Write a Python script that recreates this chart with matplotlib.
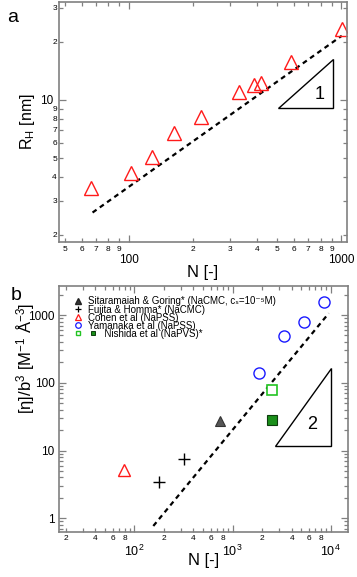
import numpy as np
import matplotlib
matplotlib.use("Agg")
import matplotlib.pyplot as plt
from matplotlib.ticker import LogLocator, FuncFormatter, NullFormatter
from matplotlib.lines import Line2D
from matplotlib.patches import Polygon
from matplotlib.legend_handler import HandlerBase

plt.rcParams['font.family'] = ['Liberation Sans', 'DejaVu Sans']
plt.rcParams['mathtext.fontset'] = 'custom'
plt.rcParams['mathtext.rm'] = 'Liberation Sans'
plt.rcParams['mathtext.it'] = 'Liberation Sans:italic'
plt.rcParams['mathtext.default'] = 'regular'

# ---------------- Panel a data ----------------
a_N = [66.8, 102, 128.4, 163.7, 219.7, 329.6, 388, 417.6, 583, 1005]
a_RH = [3.49, 4.20, 5.08, 6.72, 8.13, 10.96, 11.9, 12.3, 15.7, 23.4]
a_fit_N = [67.6, 1005]
a_fit_RH = [2.61, 21.5]
a_tri_N = [506, 918, 918]
a_tri_RH = [9.06, 9.06, 16.3]
a_slope_label = "1"
a_slope_pos = (787, 10.7)

# ---------------- Panel b data ----------------
b_sit_N = [749]
b_sit_eta = [27.3]
b_fuj_N = [180, 324]
b_fuj_eta = [3.48, 7.44]
b_coh_N = [78.5]
b_coh_eta = [5.18]
b_yam_N = [1842, 3311, 5395, 8490]
b_yam_eta = [138, 490, 788, 1556]
b_nis_open_N = [2522]
b_nis_open_eta = [78.3]
b_nis_fill_N = [2522]
b_nis_fill_eta = [28.3]
b_fit_N = [156, 9550]
b_fit_eta = [0.77, 1060]
b_tri_N = [2683, 10160, 10160]
b_tri_eta = [11.8, 11.8, 164]
b_slope_label = "2"
b_slope_pos = (6460, 23.9)

labels_b = ["Sitaramaiah & Goring* (NaCMC, c\u209b=10\u207b\u2075M)",
            "Fujita & Homma* (NaCMC)",
            "Cohen et al (NaPSS)",
            "Yamanaka et al (NaPSS)",
            "      Nishida et al (NaPVS)*"]

FRAME = '#808080'
RED = '#ff1a1a'
BLUE = '#1a1aff'
GREEN = '#22c322'
DKGREEN = '#1a8f1a'

W, H = 357, 577
fig = plt.figure(figsize=(W / 100, H / 100), dpi=100)

def fx(px):
    return px / W

def fy(py):
    return 1 - py / H

axa = fig.add_axes([fx(59), fy(242.3), fx(347 - 59), (242.3 - 1.7) / H])
axb = fig.add_axes([fx(59.3), fy(531.7), fx(347.7 - 59.3), (531.7 - 286) / H])


def digit_formatter(allowed):
    def f(v, pos):
        if v <= 0:
            return ''
        d = int(round(v / 10 ** np.floor(np.log10(v) + 1e-9)))
        return str(d) if d in allowed else ''
    return FuncFormatter(f)


def style_axes(ax):
    for s in ax.spines.values():
        s.set_color(FRAME)
        s.set_linewidth(1.2)
    ax.tick_params(which='both', direction='in', top=True, right=True,
                   color=FRAME, width=0.9)
    ax.tick_params(which='major', length=5)
    ax.tick_params(which='minor', length=3)


# ---------------- Panel a ----------------
axa.set_xscale('log')
axa.set_yscale('log')
axa.set_xlim(47, 1064)
axa.set_ylim(1.83, 32.3)
axa.plot(a_fit_N, a_fit_RH, color='black', lw=1.6, ls=(0, (2.2, 1.8)))
axa.plot(a_N, a_RH, ls='none', marker='^', ms=9.5, mfc='none', mec=RED, mew=1.0)
axa.add_patch(Polygon(np.column_stack([a_tri_N, a_tri_RH]), closed=True,
                      facecolor='white', edgecolor='black', lw=1.0))
axa.text(a_slope_pos[0], a_slope_pos[1], a_slope_label, fontsize=13,
         ha='center', va='center')
style_axes(axa)
axa.xaxis.set_major_locator(LogLocator(base=10))
axa.xaxis.set_minor_locator(LogLocator(base=10, subs=np.arange(2, 10)))
axa.yaxis.set_major_locator(LogLocator(base=10))
axa.yaxis.set_minor_locator(LogLocator(base=10, subs=np.arange(2, 10)))
axa.xaxis.set_major_formatter(FuncFormatter(lambda v, p: '%g' % v))
axa.yaxis.set_major_formatter(FuncFormatter(lambda v, p: '%g' % v))
axa.xaxis.set_minor_formatter(digit_formatter(set(range(2, 10))))
axa.yaxis.set_minor_formatter(digit_formatter(set(range(2, 10))))
axa.tick_params(axis='x', which='major', pad=8.5, labelsize=8.5)
axa.tick_params(axis='x', which='minor', pad=2.5, labelsize=6)
axa.tick_params(axis='y', which='major', pad=4.0, labelsize=8.5)
axa.tick_params(axis='y', which='minor', pad=1.5, labelsize=6)
axa.set_xlabel('N [-]', fontsize=12, labelpad=-1)
axa.set_ylabel('R$_H$ [nm]', fontsize=11.5)
axa.yaxis.set_label_coords(-0.078, 0.5)

# ---------------- Panel b ----------------
axb.set_xscale('log')
axb.set_yscale('log')
axb.set_xlim(17.2, 14900)
axb.set_ylim(0.634, 2680)
axb.plot(b_fit_N, b_fit_eta, color='black', lw=1.6, ls=(0, (2.2, 1.8)))
axb.add_patch(Polygon(np.column_stack([b_tri_N, b_tri_eta]), closed=True,
                      facecolor='white', edgecolor='black', lw=1.0))
axb.text(b_slope_pos[0], b_slope_pos[1], b_slope_label, fontsize=13,
         ha='center', va='center')
axb.plot(b_sit_N, b_sit_eta, ls='none', marker='^', ms=7.5, mfc='#555555', mec='#333333', mew=0.8)
axb.plot(b_fuj_N, b_fuj_eta, ls='none', marker='+', ms=8, mec='black', mew=1.0)
axb.plot(b_coh_N, b_coh_eta, ls='none', marker='^', ms=9, mfc='none', mec=RED, mew=1.0)
axb.plot(b_yam_N, b_yam_eta, ls='none', marker='o', ms=8, mfc='none', mec=BLUE, mew=1.0)
axb.plot(b_nis_open_N, b_nis_open_eta, ls='none', marker='s', ms=7, mfc='white', mec=GREEN, mew=1.2)
axb.plot(b_nis_fill_N, b_nis_fill_eta, ls='none', marker='s', ms=6.5, mfc=DKGREEN, mec='#0d3d0d', mew=0.8)
style_axes(axb)
axb.xaxis.set_major_locator(LogLocator(base=10))
axb.xaxis.set_minor_locator(LogLocator(base=10, subs=np.arange(2, 10)))
axb.yaxis.set_major_locator(LogLocator(base=10))
axb.yaxis.set_minor_locator(LogLocator(base=10, subs=np.arange(2, 10)))
axb.xaxis.set_major_formatter(FuncFormatter(lambda v, p: '$10^{%d}$' % round(np.log10(v))))
axb.yaxis.set_major_formatter(FuncFormatter(lambda v, p: '%g' % v))
axb.xaxis.set_minor_formatter(digit_formatter({2, 4, 6, 8}))
axb.yaxis.set_minor_formatter(NullFormatter())
axb.tick_params(axis='x', which='major', pad=8.5, labelsize=9)
axb.tick_params(axis='x', which='minor', pad=2.5, labelsize=6)
axb.tick_params(axis='y', which='major', pad=3.5, labelsize=8.5)
axb.set_xlabel('N [-]', fontsize=12, labelpad=-4)
axb.set_ylabel('[η]/b$^3$ [M$^{-1}$ Å$^{-3}$]', fontsize=12)
axb.yaxis.set_label_coords(-0.079, 0.705)


class PairKey:
    pass


class HandlerPair(HandlerBase):
    def create_artists(self, legend, orig_handle, xdescent, ydescent,
                       width, height, fontsize, trans):
        y = height / 2 - ydescent
        x0 = width / 2 - xdescent
        l1 = Line2D([x0], [y], ls='none', marker='s', ms=3.5, mfc='white',
                    mec=GREEN, mew=1.0, transform=trans)
        l2 = Line2D([x0 + 1.55 * fontsize], [y], ls='none', marker='s', ms=3.5,
                    mfc=DKGREEN, mec='#0d3d0d', mew=0.7, transform=trans)
        return [l1, l2]


h1 = Line2D([], [], ls='none', marker='^', ms=4.5, mfc='#333333', mec='#222222')
h2 = Line2D([], [], ls='none', marker='+', ms=5, mec='black', mew=0.9)
h3 = Line2D([], [], ls='none', marker='^', ms=4.5, mfc='none', mec=RED, mew=0.9)
h4 = Line2D([], [], ls='none', marker='o', ms=4, mfc='none', mec=BLUE, mew=0.9)
h5 = PairKey()
leg = axb.legend([h1, h2, h3, h4, h5], labels_b, loc='upper left',
                 bbox_to_anchor=((74 - 59.3) / 288.4, (531.7 - 296.5) / 245.7),
                 frameon=False, fontsize=7.0,
                 handlelength=0.83, handletextpad=0.63, labelspacing=-0.2,
                 borderaxespad=0.0, borderpad=0.0, numpoints=1,
                 handler_map={PairKey: HandlerPair()})

fig.text(fx(13), fy(17), 'a', fontsize=14, ha='center', va='center')
fig.text(fx(16), fy(296), 'b', fontsize=14, ha='center', va='center')

fig.savefig('out.png', dpi=100)
